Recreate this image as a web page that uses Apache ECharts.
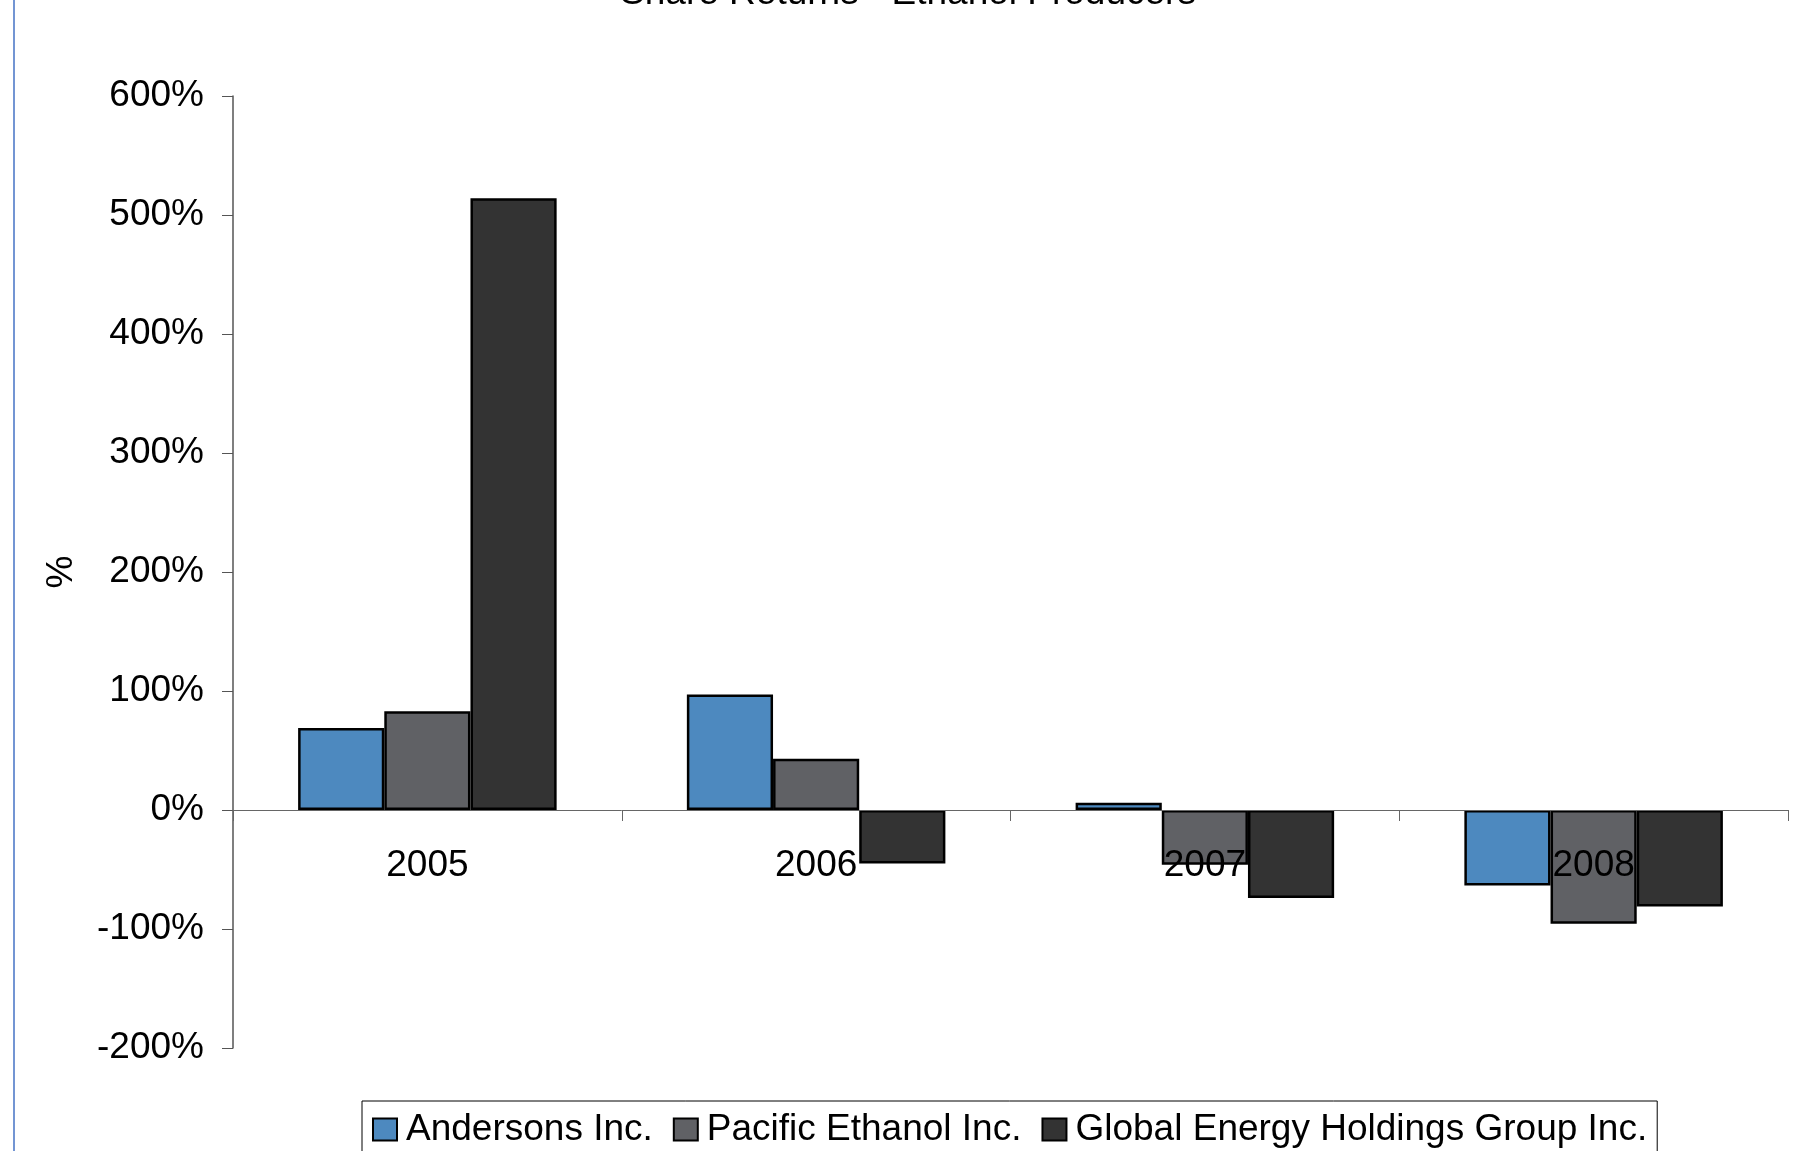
<!DOCTYPE html>
<html>
<head>
<meta charset="utf-8">
<script src="https://cdn.jsdelivr.net/npm/echarts@6/dist/echarts.min.js"></script>
<style>
html,body{margin:0;padding:0;background:#fff;}
#chart{width:1795px;height:1151px;}
</style>
</head>
<body>
<div id="chart"></div>
<script>
const categories = ['2005', '2006', '2007', '2008'];
const andersons = [69, 97, 6, -63.5];
const pacific = [83, 43, -46, -95.5];
const globalEnergy = [514, -45, -74, -81];
const seriesNames = ['Andersons Inc.', 'Pacific Ethanol Inc.', 'Global Energy Holdings Group Inc.'];
const titleText = 'Share Returns - Ethanol Producers';

const FONT = 'Liberation Sans, Arial, sans-serif';
const colors = ['#4d89bf', '#606165', '#333333'];

const Y_MIN = -200, Y_MAX = 600;
const GRID_TOP = 96, GRID_BOTTOM = 103, H = 1151;
const plotH = H - GRID_TOP - GRID_BOTTOM;
// offset to place the category axis at value 0
const zeroOffset = -plotH * (0 - Y_MIN) / (Y_MAX - Y_MIN);

const chart = echarts.init(document.getElementById('chart'));
function mkSeries(name, data, color) {
  return {
    name: name,
    type: 'bar',
    data: data,
    barGap: '0%',
    barCategoryGap: '33.5%',
    itemStyle: { color: color, borderColor: '#000', borderWidth: 2.5 },
    emphasis: { disabled: true }
  };
}
chart.setOption({
  animation: false,
  backgroundColor: '#fff',
  textStyle: { fontFamily: FONT },
  grid: { left: 233, right: 7, top: GRID_TOP, bottom: GRID_BOTTOM },
  graphic: [
    { type: 'line', shape: { x1: 14, y1: 0, x2: 14, y2: 1151 }, style: { stroke: '#4472c4', lineWidth: 1.5 } },
    { type: 'text', x: 908, y: -6, style: { text: titleText, font: '37px ' + FONT, fill: '#000', textAlign: 'center', textVerticalAlign: 'middle' } }
  ],
  legend: {
    data: seriesNames,
    left: 362,
    top: 1101,
    orient: 'horizontal',
    borderColor: '#000',
    borderWidth: 1,
    padding: [10, 10, 7, 10],
    itemWidth: 24,
    itemHeight: 22,
    itemGap: 20,
    icon: 'rect',
    itemStyle: { borderColor: '#000', borderWidth: 2 },
    textStyle: { fontSize: 37, color: '#000', fontFamily: FONT, padding: [0, 0, 0, 4] }
  },
  xAxis: {
    type: 'category',
    data: categories,
    z: 10,
    position: 'bottom',
    offset: zeroOffset,
    axisLine: { onZero: false, lineStyle: { color: '#666', width: 1 } },
    axisTick: { show: true, length: 11, lineStyle: { color: '#666' } },
    axisLabel: { fontSize: 37, color: '#000', margin: 37, fontFamily: FONT }
  },
  yAxis: {
    type: 'value',
    min: Y_MIN,
    max: Y_MAX,
    interval: 100,
    name: '%',
    nameLocation: 'middle',
    nameGap: 153,
    nameRotate: 90,
    nameTextStyle: { fontSize: 37, color: '#000', fontFamily: FONT },
    splitLine: { show: false },
    axisLine: { show: true, lineStyle: { color: '#555', width: 1.5 } },
    axisTick: { show: true, length: 11, lineStyle: { color: '#555' } },
    axisLabel: { fontSize: 37, color: '#000', margin: 29, padding: [6, 0, 0, 0], formatter: '{value}%', fontFamily: FONT }
  },
  series: [
    mkSeries(seriesNames[0], andersons, colors[0]),
    mkSeries(seriesNames[1], pacific, colors[1]),
    mkSeries(seriesNames[2], globalEnergy, colors[2])
  ]
});
</script>
</body>
</html>
